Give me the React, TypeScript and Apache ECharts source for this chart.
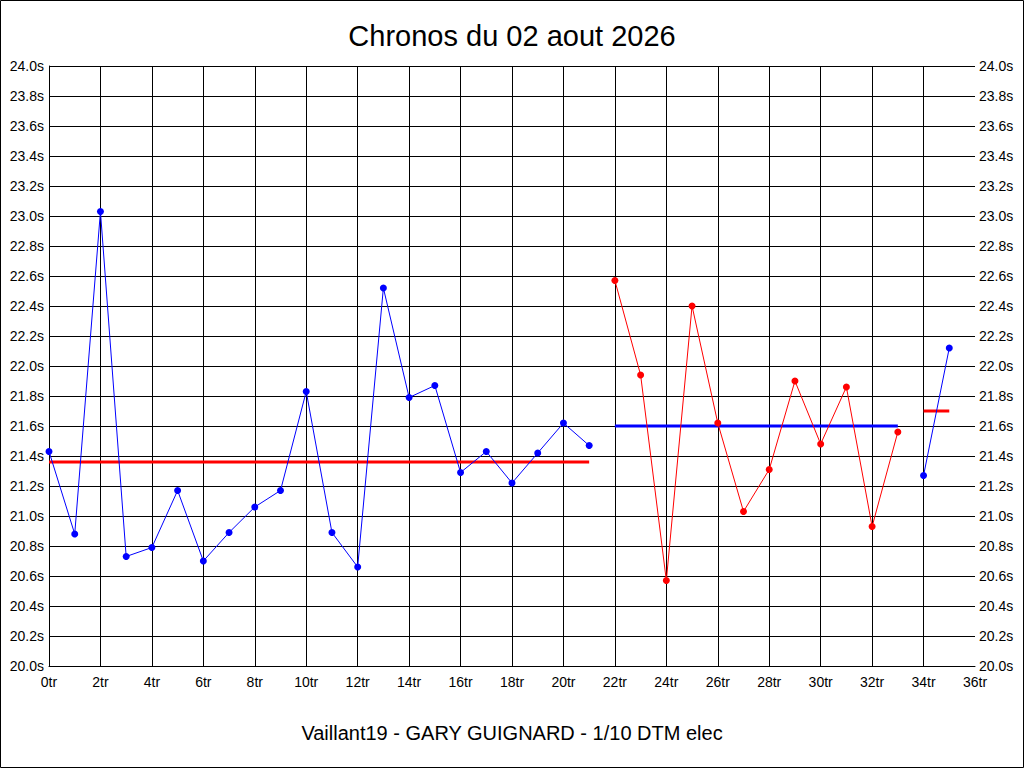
import React, { useEffect, useRef } from "react";
import * as echarts from "echarts";

const titleText = "Chronos du 02 aout 2026";
const subtitleText = "Vaillant19 - GARY GUIGNARD - 1/10 DTM elec";

// Lap times (seconds), grouped in runs; first lap index of each run
const startA = 0;
const lapsA = [
  21.43, 20.88, 23.03, 20.73, 20.79, 21.17, 20.7, 20.89, 21.06, 21.17, 21.83,
  20.89, 20.66, 22.52, 21.79, 21.87, 21.29, 21.43, 21.22, 21.42, 21.62, 21.47,
];
const startB = 22;
const lapsB = [22.57, 21.94, 20.57, 22.4, 21.62, 21.03, 21.31, 21.9, 21.48, 21.86, 20.93, 21.56];
const startC = 34;
const lapsC = [21.27, 22.12];

// Mean lines of each run
const meanA = 21.36;
const meanB = 21.6;
const meanC = 21.7;

const BLUE = "#0000ff";
const RED = "#ff0000";
const FONT = "'Liberation Sans', Arial, sans-serif";

function toPoints(start: number, vals: number[]) {
  return vals.map((v, i) => [start + i, v]);
}
function meanLine(start: number, vals: number[], mean: number) {
  return [
    [start, mean],
    [start + vals.length - 1, mean],
  ];
}

export default function App() {
  const ref = useRef<HTMLDivElement>(null);
  useEffect(() => {
    document.body.style.margin = "0";
    if (!ref.current) return;
    const chart = echarts.init(ref.current, undefined, { renderer: "svg" });
    const yAxisBase = {
      type: "value" as const,
      min: 20,
      max: 24,
      interval: 0.2,
      axisTick: { show: false },
      axisLabel: {
        formatter: (v: number) => v.toFixed(1) + "s",
        color: "#000",
        fontSize: 14,
        fontFamily: FONT,
      },
    };
    const runSeries = (data: number[][], color: string) => ({
      type: "line",
      data,
      symbol: "circle",
      symbolSize: 7,
      lineStyle: { color, width: 1 },
      itemStyle: { color },
      z: 3,
    });
    const meanSeries = (data: number[][], color: string) => ({
      type: "line",
      data,
      symbol: "none",
      lineStyle: { color, width: 3 },
      z: 2,
    });
    chart.setOption({
      animation: false,
      backgroundColor: "#fff",
      title: {
        text: titleText,
        left: "center",
        top: 16,
        textStyle: { fontSize: 29, fontWeight: "normal", color: "#000", fontFamily: FONT },
      },
      graphic: [
        {
          type: "rect",
          shape: { x: 0.5, y: 0.5, width: 1023, height: 767 },
          style: { fill: "none", stroke: "#000", lineWidth: 1 },
          silent: true,
        },
        {
          type: "text",
          x: 512,
          y: 733,
          style: {
            text: subtitleText,
            fontSize: 20,
            fontFamily: FONT,
            fill: "#000",
            align: "center",
            verticalAlign: "middle",
          },
        },
      ],
      grid: { left: 49, right: 49, top: 66, bottom: 102 },
      xAxis: {
        type: "value",
        min: 0,
        max: 36,
        interval: 2,
        axisLine: { show: true, lineStyle: { color: "#000", width: 1 } },
        axisTick: { show: false },
        axisLabel: {
          formatter: (v: number) => v + "tr",
          color: "#000",
          fontSize: 14,
          fontFamily: FONT,
          margin: 9,
        },
        splitLine: { show: true, showMaxLine: false, lineStyle: { color: "#000", width: 1 } },
      },
      yAxis: [
        {
          ...yAxisBase,
          position: "left",
          axisLine: { show: true, lineStyle: { color: "#000", width: 1 } },
          axisLabel: { ...yAxisBase.axisLabel, margin: 5 },
          splitLine: { show: true, lineStyle: { color: "#000", width: 1 } },
        },
        {
          ...yAxisBase,
          position: "right",
          axisLine: { show: false },
          axisLabel: { ...yAxisBase.axisLabel, margin: 4 },
          splitLine: { show: false },
        },
      ],
      series: [
        meanSeries(meanLine(startA, lapsA, meanA), RED),
        meanSeries(meanLine(startB, lapsB, meanB), BLUE),
        meanSeries(meanLine(startC, lapsC, meanC), RED),
        runSeries(toPoints(startA, lapsA), BLUE),
        runSeries(toPoints(startB, lapsB), RED),
        runSeries(toPoints(startC, lapsC), BLUE),
      ],
    });
    return () => chart.dispose();
  }, []);
  return <div ref={ref} style={{ width: 1024, height: 768 }} />;
}
